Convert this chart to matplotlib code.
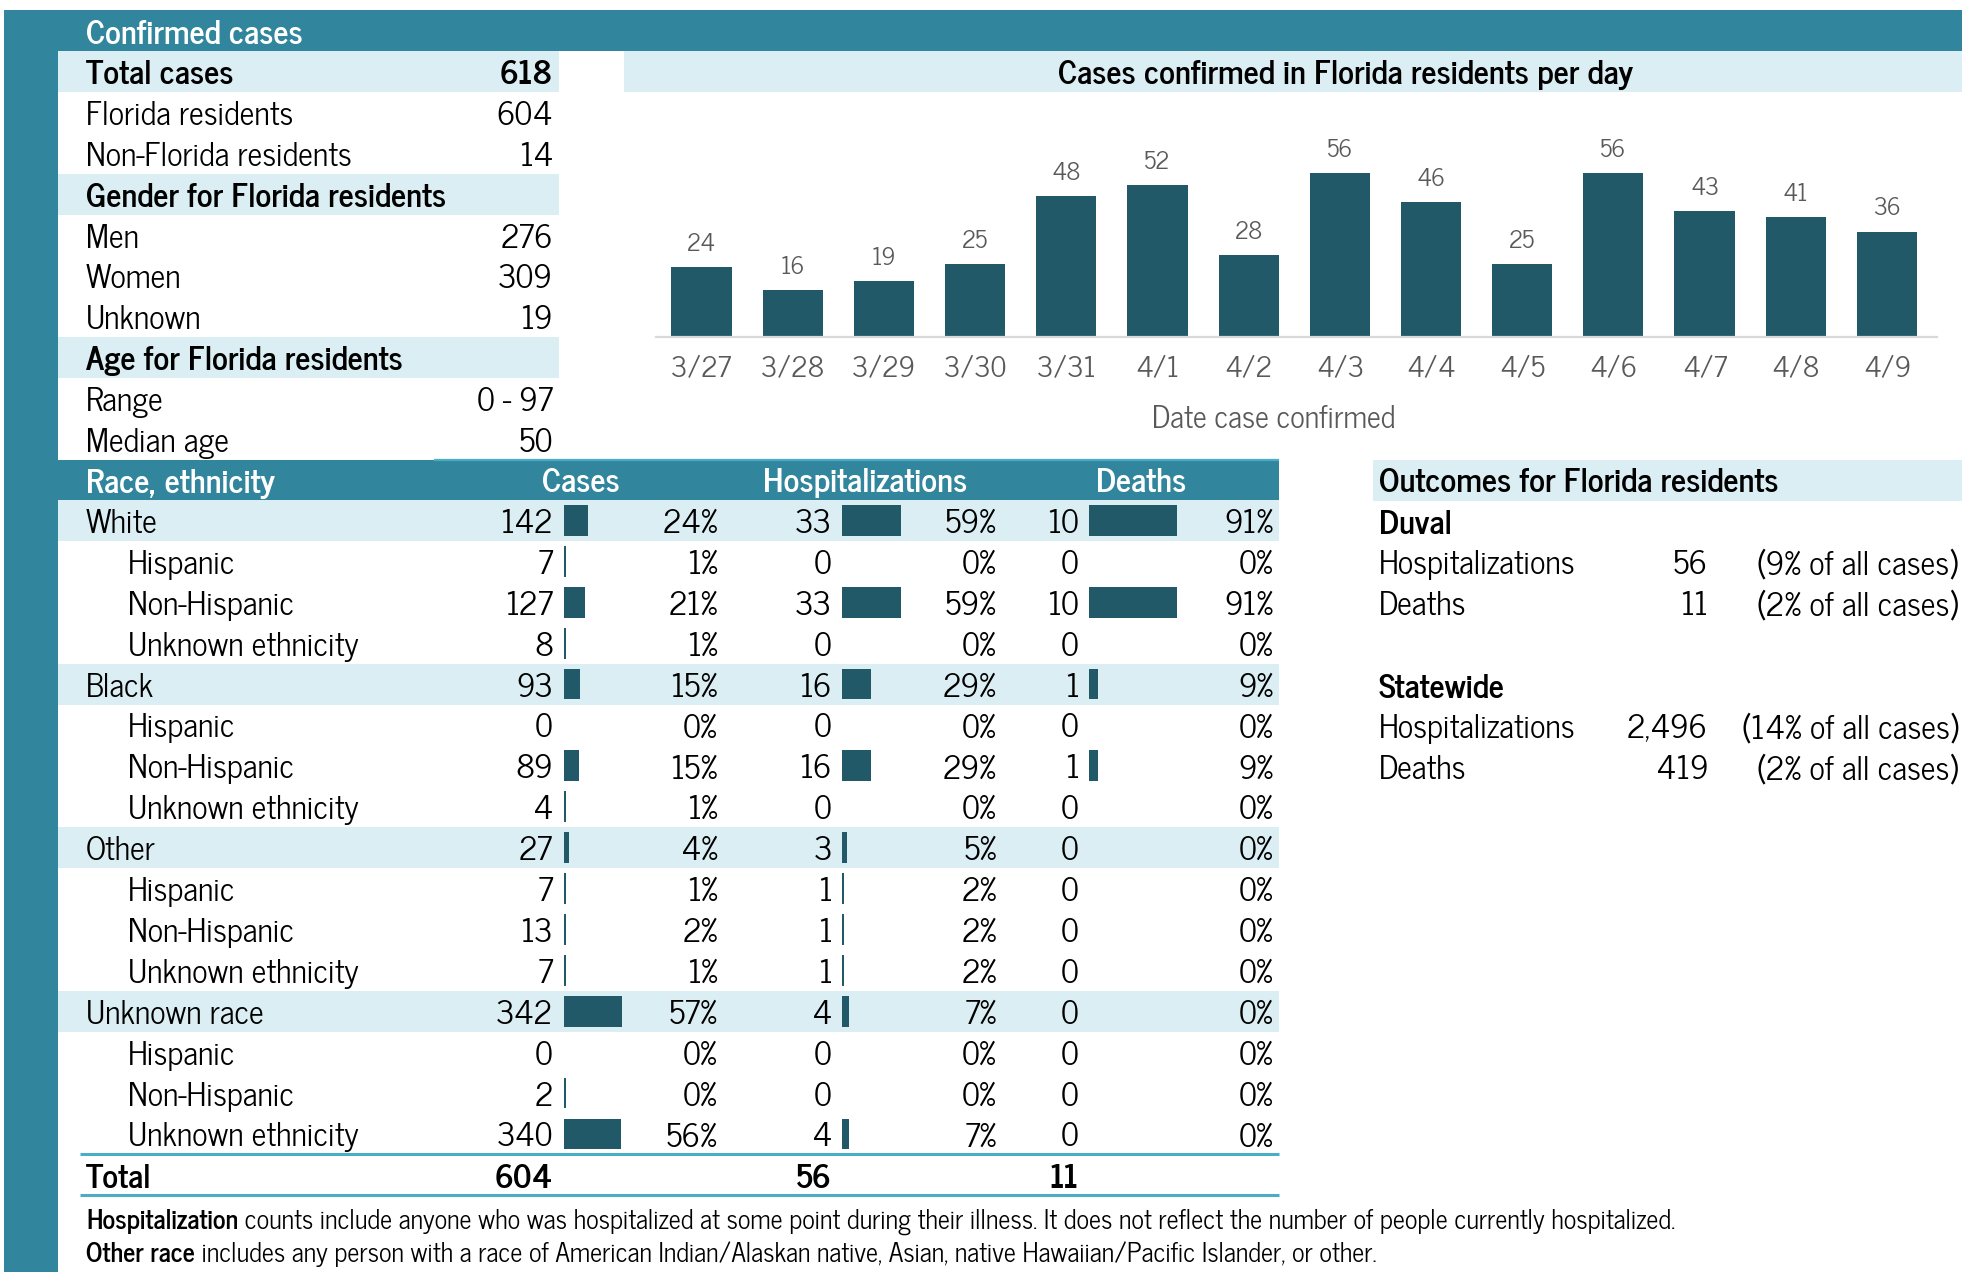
import matplotlib
matplotlib.use("Agg")
import matplotlib.pyplot as plt
from matplotlib.patches import Rectangle

plt.rcParams['font.family'] = ['News Cycle', 'Roboto Condensed', 'DejaVu Sans']

# ---- data ----
summary_labels = ["Total cases", "Florida residents", "Non-Florida residents",
                  "Gender for Florida residents", "Men", "Women", "Unknown",
                  "Age for Florida residents", "Range", "Median age"]
summary_values = ["618", "604", "14", "", "276", "309", "19", "", "0 - 97", "50"]
summary_is_header = [True, False, False, True, False, False, False, True, False, False]

dates = ["3/27", "3/28", "3/29", "3/30", "3/31", "4/1", "4/2",
         "4/3", "4/4", "4/5", "4/6", "4/7", "4/8", "4/9"]
daily_cases = [24, 16, 19, 25, 48, 52, 28, 56, 46, 25, 56, 43, 41, 36]

race_labels = ["White", "Hispanic", "Non-Hispanic", "Unknown ethnicity",
               "Black", "Hispanic", "Non-Hispanic", "Unknown ethnicity",
               "Other", "Hispanic", "Non-Hispanic", "Unknown ethnicity",
               "Unknown race", "Hispanic", "Non-Hispanic", "Unknown ethnicity"]
race_is_group = [True, False, False, False] * 4
race_cases = [142, 7, 127, 8, 93, 0, 89, 4, 27, 7, 13, 7, 342, 0, 2, 340]
race_cases_pct = [24, 1, 21, 1, 15, 0, 15, 1, 4, 1, 2, 1, 57, 0, 0, 56]
race_hosp = [33, 0, 33, 0, 16, 0, 16, 0, 3, 1, 1, 1, 4, 0, 0, 4]
race_hosp_pct = [59, 0, 59, 0, 29, 0, 29, 0, 5, 2, 2, 2, 7, 0, 0, 7]
race_deaths = [10, 0, 10, 0, 1, 0, 1, 0, 0, 0, 0, 0, 0, 0, 0, 0]
race_deaths_pct = [91, 0, 91, 0, 9, 0, 9, 0, 0, 0, 0, 0, 0, 0, 0, 0]
total_cases = 604
total_hosp = 56
total_deaths = 11

outcome_labels = ["Hospitalizations", "Deaths"]
duval_values = ["56", "11"]
duval_shares = ["(9% of all cases)", "(2% of all cases)"]
state_values = ["2,496", "419"]
state_shares = ["(14% of all cases)", "(2% of all cases)"]

footnotes = [("Hospitalization", " counts include anyone who was hospitalized at some point during their illness. It does not reflect the number of people currently hospitalized."),
             ("Other race", " includes any person with a race of American Indian/Alaskan native, Asian, native Hawaiian/Pacific Islander, or other.")]

# ---- style ----
TEAL = "#31859C"
LIGHT = "#DAEEF3"
DARK = "#215968"
LINE = "#4BACC6"
GRAY = "#595959"
FS = 23.3
FSB = 23.7
DY = 3.5  # optical centring of text in rows

W, H = 1962, 1272
fig = plt.figure(figsize=(W / 100, H / 100), dpi=100)
ax = fig.add_axes([0, 0, 1, 1])
ax.set_xlim(0, W)
ax.set_ylim(H, 0)
ax.axis("off")

# frame
ax.add_patch(Rectangle((4, 10), W - 4, 41, color=TEAL, lw=0))
ax.add_patch(Rectangle((4, 10), 54, H - 10, color=TEAL, lw=0))
ax.text(86, 31 + DY, "Confirmed cases", color="white", fontsize=23.7, weight="bold", va="center")

# summary table
ROW = 40.9
y0 = 51
for i, (lab, val, hdr) in enumerate(zip(summary_labels, summary_values, summary_is_header)):
    yc = y0 + (i + 0.5) * ROW + DY
    if hdr:
        ax.add_patch(Rectangle((58, y0 + i * ROW), 501, ROW, color=LIGHT, lw=0))
    ax.text(86, yc, lab, fontsize=FSB if hdr else FS, weight="bold" if hdr else "normal", va="center")
    if val:
        ax.text(553, yc, val, fontsize=FSB if hdr else FS, weight="bold" if hdr else "normal",
                va="center", ha="right")

# race table header
ax.add_patch(Rectangle((58, 460), 1221, 40, color=TEAL, lw=0))
ax.plot([434, 1279], [460, 460], color=LINE, lw=1.6, solid_capstyle="butt")
hy = 480 + DY
ax.text(86, hy, "Race, ethnicity", color="white", fontsize=FSB, weight="bold", va="center")
ax.text(581, hy, "Cases", color="white", fontsize=FSB, weight="bold", va="center", ha="center")
ax.text(865, hy, "Hospitalizations", color="white", fontsize=FSB, weight="bold", va="center", ha="center")
ax.text(1141, hy, "Deaths", color="white", fontsize=FSB, weight="bold", va="center", ha="center")

y1 = 500
race_y = [y1 + (i + 0.5) * ROW for i in range(len(race_labels))]
for i, grp in enumerate(race_is_group):
    if grp:
        ax.add_patch(Rectangle((58, y1 + i * ROW), 1221, ROW, color=LIGHT, lw=0))

columns = [
    (race_cases, race_cases_pct, 553, 564, 718, 57.6 / 342),
    (race_hosp, race_hosp_pct, 832, 842, 997, 58.8 / 33),
    (race_deaths, race_deaths_pct, 1079, 1089, 1274, 87.6 / 10),
]
for i, (lab, grp) in enumerate(zip(race_labels, race_is_group)):
    ax.text(86 if grp else 128, race_y[i] + DY, lab, fontsize=FS, va="center")

for vals, pcts, num_x, bar_x, pct_x, scale in columns:
    widths = [max(v * scale, 1.6) if v > 0 else 0 for v in vals]
    ax.barh(race_y, widths, left=bar_x, height=30.7, color=DARK, lw=0)
    for yc, v, p in zip(race_y, vals, pcts):
        ax.text(num_x, yc + DY, str(v), fontsize=FS, va="center", ha="right")
        ax.text(pct_x, yc + DY, "%d%%" % p, fontsize=FS, va="center", ha="right")

# totals
ax.plot([80, 1279], [1154, 1154], color=LINE, lw=2.2, solid_capstyle="butt")
ax.plot([80, 1279], [1195, 1195], color=LINE, lw=2.2, solid_capstyle="butt")
ax.text(86, 1175 + DY, "Total", fontsize=FSB, weight="bold", va="center")
for x, v in zip([553, 832, 1079], [total_cases, total_hosp, total_deaths]):
    ax.text(x, 1175 + DY, str(v), fontsize=FSB, weight="bold", va="center", ha="right")

# outcomes panel
ax.add_patch(Rectangle((1373, 460), W - 1373, 41, color=LIGHT, lw=0))
ax.text(1379, hy, "Outcomes for Florida residents", fontsize=FSB, weight="bold", va="center")
blocks = [("Duval", duval_values, duval_shares, 521), ("Statewide", state_values, state_shares, 685)]
for name, vals, shares, yb in blocks:
    ax.text(1379, yb + DY, name, fontsize=FSB, weight="bold", va="center")
    for k, (lab, v, s) in enumerate(zip(outcome_labels, vals, shares)):
        yc = yb + (k + 1) * ROW + DY
        ax.text(1379, yc, lab, fontsize=FS, va="center")
        ax.text(1708, yc, v, fontsize=FS, va="center", ha="right")
        ax.text(1958, yc, s, fontsize=FS, va="center", ha="right")

# footnotes
for (bold, rest), yc in zip(footnotes, [1222, 1254]):
    t = ax.text(86, yc, bold, fontsize=19, weight="bold", va="center")
    ax.annotate(rest, xy=(1, 0.5), xycoords=t, fontsize=19, va="center", ha="left")

# daily bar chart
ax.add_patch(Rectangle((624, 51), W - 624, 41, color=LIGHT, lw=0))
ax.text(1345, 71 + DY, "Cases confirmed in Florida residents per day", fontsize=FSB,
        weight="bold", va="center", ha="center")

cax = fig.add_axes([656 / W, 1 - 337 / H, 1281 / W, 175.7 / H])
cax.patch.set_alpha(0)
x = list(range(len(dates)))
cax.bar(x, daily_cases, width=0.66, color=DARK)
for i, v in zip(x, daily_cases):
    cax.annotate(str(v), (i, v), xytext=(0, 8), textcoords="offset points",
                 ha="center", va="bottom", fontsize=17.5, color=GRAY)
cax.set_xlim(-0.5, 13.55)
cax.set_ylim(0, 60)
cax.set_xticks(x, dates)
cax.set_yticks([])
cax.tick_params(axis="x", length=0, labelsize=20.5, labelcolor=GRAY, pad=14)
for side in ["top", "left", "right"]:
    cax.spines[side].set_visible(False)
cax.spines["bottom"].set_color("#D9D9D9")
cax.spines["bottom"].set_linewidth(1.6)
cax.set_xlabel("Date case confirmed", fontsize=22, color=GRAY)
cax.xaxis.set_label_coords(0.482, -0.385)

fig.savefig("out.png", dpi=100)
